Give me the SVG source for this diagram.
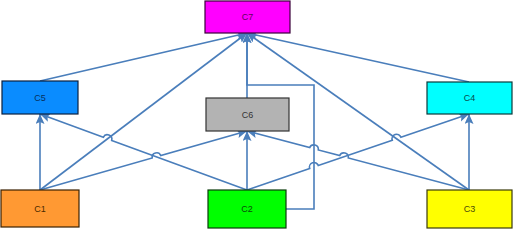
<svg xmlns="http://www.w3.org/2000/svg" width="513" height="229" viewBox="0 0 513 229">
<style>
.box{stroke-width:1.2}
.lbl{font-family:"Liberation Sans",Arial,sans-serif;font-size:9px;text-anchor:middle;dominant-baseline:central}
.c{fill:none;stroke:#4a7ebb;stroke-width:1.6;marker-end:url(#a)}
</style>
<defs>
<marker id="a" markerWidth="12" markerHeight="10" refX="10" refY="4.5" orient="auto" markerUnits="userSpaceOnUse">
<path d="M0,0 L10,4.5 L0,9 L2,4.5 z" fill="#4a7ebb"/>
</marker>
</defs>
<rect width="513" height="229" fill="#fff"/>
<g id="connectors">
<path class="c" d="M40,190 L40,114"/>
<path class="c" d="M40,190 L247,33"/>
<path class="c" d="M40,190 L152.2,158 A4.5,4.5 0 0 1 160.8,155.6 L247,131"/>
<path class="c" d="M247,190 L247,131"/>
<path class="c" d="M247,190 L111.7,140.4 A4.5,4.5 0 0 0 103.3,137.3 L40,114"/>
<path class="c" d="M247,190 L309.7,168.5 A4.5,4.5 0 0 1 318.3,165.6 L392.3,140.3 A4.5,4.5 0 0 1 400.9,137.3 L469,114"/>
<path class="c" d="M286,209 L314,209 L314,85 L247,85 L247,33"/>
<path class="c" d="M469,190 L469,114"/>
<path class="c" d="M469,190 L247,33"/>
<path class="c" d="M469,190 L348.3,157.9 A4.5,4.5 0 0 0 339.7,155.6 L318.3,149.9 A4.5,4.5 0 0 0 309.7,147.6 L247,131"/>
<path class="c" d="M40,81 L247,33"/>
<path class="c" d="M247,98 L247,33"/>
<path class="c" d="M469,82 L247,33"/>
</g>
<g id="C7"><rect class="box" x="205" y="1" width="85" height="32" fill="#ff00ff" stroke="#3a003a"/><text class="lbl" x="247.5" y="17" fill="#600060">C7</text></g>
<g id="C5"><rect class="box" x="2" y="81" width="76" height="33" fill="#0a8cff" stroke="#0a2040"/><text class="lbl" x="40" y="97.5" fill="#063060">C5</text></g>
<g id="C6"><rect class="box" x="206" y="98" width="83" height="33" fill="#b3b3b3" stroke="#333"/><text class="lbl" x="247.5" y="114.5" fill="#333">C6</text></g>
<g id="C4"><rect class="box" x="427" y="82" width="85" height="32" fill="#00ffff" stroke="#0a3a3a"/><text class="lbl" x="469.5" y="98" fill="#0a4a4a">C4</text></g>
<g id="C1"><rect class="box" x="1" y="190" width="78" height="37" fill="#ff9933" stroke="#3a2000"/><text class="lbl" x="40" y="208.5" fill="#4a2a00">C1</text></g>
<g id="C2"><rect class="box" x="208" y="190" width="78" height="38" fill="#00ff00" stroke="#0a3a0a"/><text class="lbl" x="247" y="209" fill="#0a4a0a">C2</text></g>
<g id="C3"><rect class="box" x="427" y="190" width="85" height="38" fill="#ffff00" stroke="#3a3a0a"/><text class="lbl" x="469.5" y="209" fill="#4a4a0a">C3</text></g>
</svg>
